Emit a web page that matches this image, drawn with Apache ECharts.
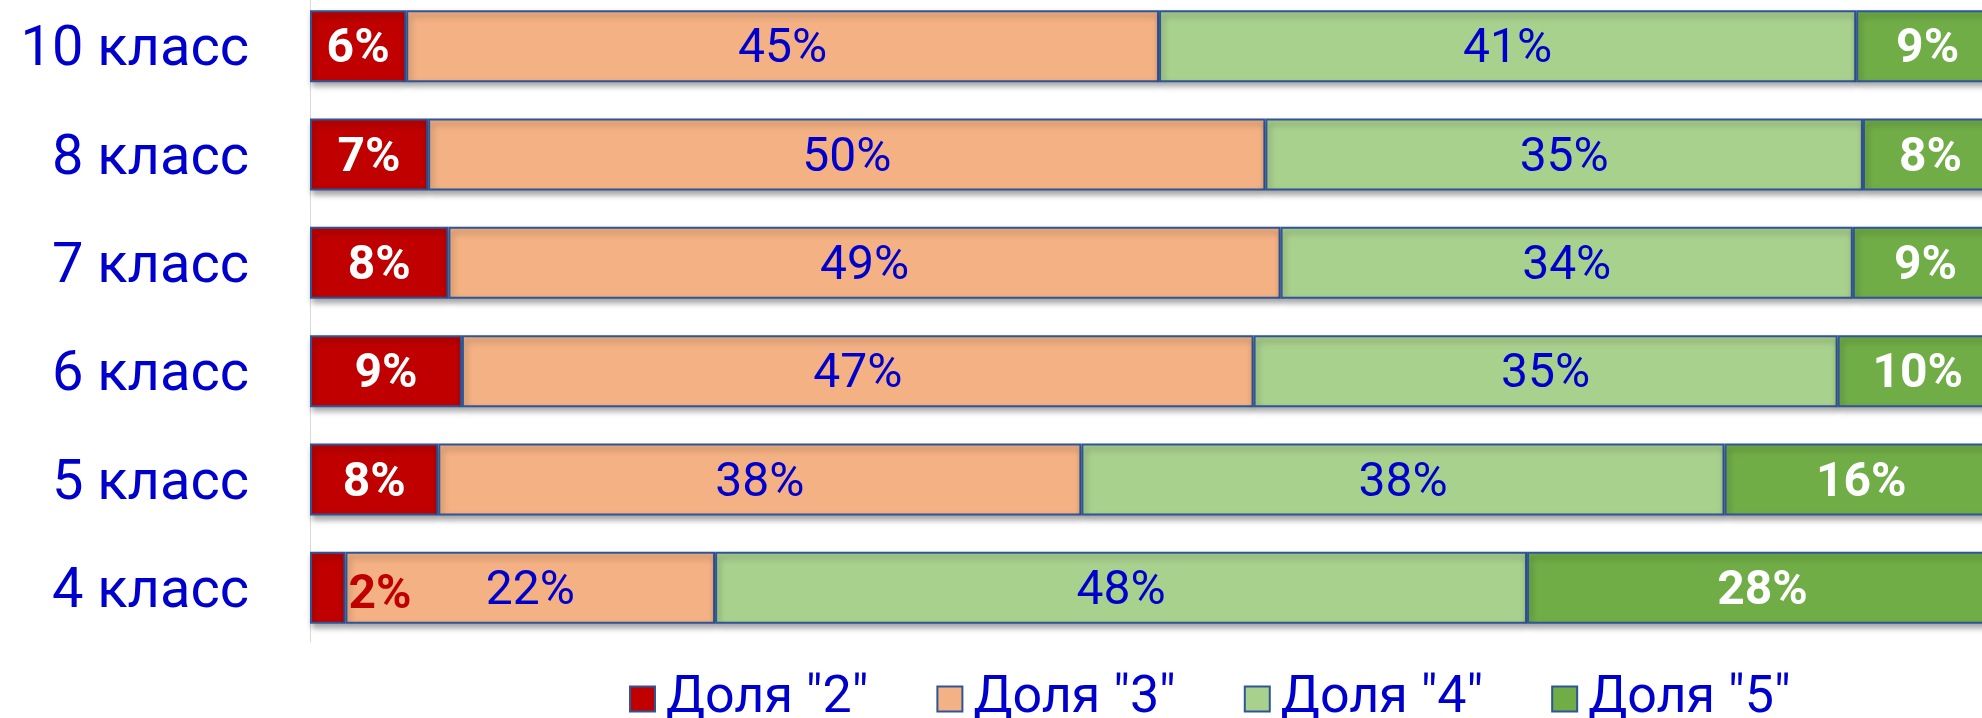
<!DOCTYPE html>
<html>
<head>
<meta charset="utf-8">
<script src="https://cdn.jsdelivr.net/npm/echarts@6/dist/echarts.min.js"></script>
<style>
    html, body { margin: 0; padding: 0; background: #ffffff; }
    #main { width: 1982px; height: 718px; }
</style>
</head>
<body>
<div id="main"></div>
<script>
// classes, top to bottom
let classes = ['10 класс', '8 класс', '7 класс', '6 класс', '5 класс', '4 класс'];

// shares of marks, %
let share2 = [5.7, 7.0, 8.2, 9.0, 7.6, 2.1];
let share3 = [44.6, 49.6, 49.3, 46.9, 38.1, 21.9];
let share4 = [41.3, 35.4, 33.9, 34.6, 38.1, 48.1];
let share5 = [8.5, 8.0, 8.6, 9.5, 16.2, 27.9];

let seriesNames = ['Доля "2"', 'Доля "3"', 'Доля "4"', 'Доля "5"'];

let font = 'Roboto';
let blue = '#0000CC';
let borderBlue = '#2F5597';

function makeSeries(name, values, color, labelColor, bold) {
    return {
        name: name,
        type: 'bar',
        stack: 'total',
        barWidth: 72,
        itemStyle: {
            color: color,
            borderColor: borderBlue,
            borderWidth: 2,
            shadowColor: 'rgba(0,0,0,0.35)',
            shadowBlur: 6,
            shadowOffsetX: 2,
            shadowOffsetY: 4
        },
        label: {
            show: true,
            position: 'inside',
            offset: [0, 4],
            color: labelColor,
            fontFamily: font,
            fontSize: 48,
            fontWeight: bold ? 'bold' : 'normal',
            formatter: function (p) {
                return Math.round(p.value) + '%';
            }
        },
        data: values.map(function (v) {
            // too narrow a segment: the label goes to its right
            if (v < 4) {
                return {
                    value: v,
                    label: {position: 'right', distance: 3, color: '#C00000', offset: [0, 8]}
                };
            }
            return v;
        })
    };
}

let option = {
    animation: false,
    grid: {
        left: 310,
        top: -8,
        width: 1688,
        height: 650,
        outerBoundsMode: 'none'
    },
    legend: {
        left: 624,
        top: 668,
        icon: 'rect',
        itemWidth: 25,
        itemHeight: 25,
        itemGap: 68,
        textStyle: {
            color: blue,
            fontFamily: font,
            fontSize: 52,
            padding: [0, 0, 0, 6]
        },
        data: seriesNames
    },
    xAxis: {
        type: 'value',
        min: 0,
        max: 100,
        show: false
    },
    yAxis: {
        type: 'category',
        inverse: true,
        data: classes,
        axisTick: {show: false},
        axisLine: {lineStyle: {color: '#D9D9D9', width: 1}},
        axisLabel: {
            color: blue,
            fontFamily: font,
            fontSize: 56,
            margin: 61,
            formatter: '{t|{value}}',
            rich: {
                t: {
                    color: blue,
                    fontFamily: font,
                    fontSize: 56,
                    padding: [10, 0, 0, 0]
                }
            }
        }
    },
    series: [
        makeSeries(seriesNames[0], share2, '#C00000', '#ffffff', true),
        makeSeries(seriesNames[1], share3, '#F4B183', blue, false),
        makeSeries(seriesNames[2], share4, '#A9D18E', blue, false),
        makeSeries(seriesNames[3], share5, '#70AD47', '#ffffff', true)
    ]
};

let chart = echarts.init(document.getElementById('main'));
chart.setOption(option);
</script>
</body>
</html>
